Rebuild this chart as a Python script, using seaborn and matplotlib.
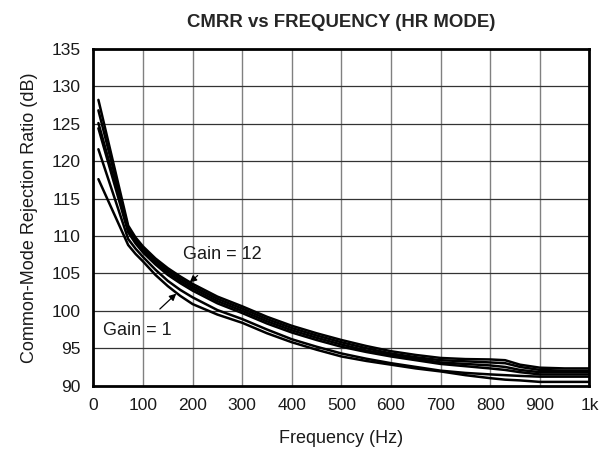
import pandas as pd
import numpy as np
import matplotlib
matplotlib.use('Agg')
import matplotlib.pyplot as plt
import seaborn as sns

# Frequency points (Hz)
freq = [10, 70, 85, 100, 125, 150, 175, 200, 250, 300, 350, 400, 450, 500, 550, 600,
        650, 700, 750, 800, 830, 860, 900, 950, 1000]

# CMRR curves (dB), top band = Gain 12 family, bottom = Gain 1
g12_a = [128.2, 111.4, 109.8, 108.6, 107.0, 105.7, 104.6, 103.6, 101.9, 100.6, 99.2, 98.0, 97.0,
         96.1, 95.3, 94.6, 94.1, 93.7, 93.55, 93.5, 93.4, 92.8, 92.4, 92.3, 92.3]
g12_b = [126.8, 111.1, 109.5, 108.3, 106.7, 105.4, 104.3, 103.3, 101.6, 100.3, 98.9, 97.7, 96.7,
         95.8, 95.0, 94.3, 93.8, 93.4, 93.25, 93.1, 93.0, 92.5, 92.1, 92.0, 92.0]
g12_c = [125.1, 110.8, 109.2, 108.0, 106.4, 105.1, 104.0, 103.0, 101.3, 100.0, 98.6, 97.4, 96.4,
         95.5, 94.7, 94.1, 93.6, 93.1, 92.9, 92.7, 92.5, 92.1, 91.8, 91.8, 91.8]
g12_d = [124.4, 110.5, 109.0, 107.8, 106.2, 104.8, 103.7, 102.7, 101.0, 99.7, 98.3, 97.1, 96.1,
         95.2, 94.5, 93.9, 93.4, 92.9, 92.6, 92.3, 92.1, 91.8, 91.5, 91.5, 91.5]
g2 = [121.6, 109.6, 108.3, 107.2, 105.5, 104.0, 102.8, 101.8, 100.1, 98.9, 97.5, 96.2, 95.2,
      94.3, 93.6, 93.0, 92.5, 92.0, 91.7, 91.5, 91.4, 91.3, 91.2, 91.2, 91.2]
g1 = [117.6, 108.8, 107.6, 106.6, 104.8, 103.3, 102.0, 100.9, 99.5, 98.4, 97.0, 95.8, 94.8,
      93.9, 93.3, 92.8, 92.3, 91.9, 91.4, 91.0, 90.8, 90.7, 90.5, 90.5, 90.5]

curves = {'G12a': g12_a, 'G12b': g12_b, 'G12c': g12_c, 'G12d': g12_d, 'G2': g2, 'G1': g1}
rows = []
for name, vals in curves.items():
    for f, v in zip(freq, vals):
        rows.append({'freq': f, 'cmrr': v, 'curve': name})
df = pd.DataFrame(rows)

x_ticks = [0, 100, 200, 300, 400, 500, 600, 700, 800, 900, 1000]
x_labels = ['0', '100', '200', '300', '400', '500', '600', '700', '800', '900', '1k']
y_ticks = [90, 95, 100, 105, 110, 115, 120, 125, 130, 135]

sns.set_style('white')
plt.rcParams['font.family'] = ['Liberation Sans', 'DejaVu Sans']

fig = plt.figure(figsize=(5.99, 4.58), dpi=100)
ax = fig.add_axes([0.156, 0.158, 0.828, 0.735])

sns.lineplot(data=df, x='freq', y='cmrr', hue='curve', palette=['black'] * 6,
             legend=False, linewidth=1.8, ax=ax, sort=True)

ax.set_xlim(0, 1000)
ax.set_ylim(90, 135)
ax.set_xticks(x_ticks)
ax.set_xticklabels(x_labels)
ax.set_yticks(y_ticks)
ax.tick_params(length=0, labelsize=12.5, pad=9, labelcolor='#1a1a1a')
for t in x_ticks[1:-1]:
    ax.axvline(t, color='#808080', linewidth=1.0, zorder=0)
for t in y_ticks[1:-1]:
    ax.axhline(t, color='#333333', linewidth=0.9, zorder=0)
for s in ax.spines.values():
    s.set_color('black')
    s.set_linewidth(2.0)

ax.set_xlabel('Frequency (Hz)', fontsize=13, labelpad=12, color='#1a1a1a')
ax.set_ylabel('Common-Mode Rejection Ratio (dB)', fontsize=13, labelpad=10, color='#1a1a1a')
ax.set_title('CMRR vs FREQUENCY (HR MODE)', fontsize=13.4, fontweight='bold', pad=16)

ax.annotate('Gain = 12', xy=(194, 103.8), xytext=(259, 107.5), fontsize=13,
            ha='center', va='center', color='#1a1a1a',
            arrowprops=dict(arrowstyle='-|>', color='black', lw=0.9, mutation_scale=10,
                            shrinkA=10, shrinkB=0))
ax.annotate('Gain = 1', xy=(167, 102.3), xytext=(88, 97.4), fontsize=13,
            ha='center', va='center', color='#1a1a1a',
            arrowprops=dict(arrowstyle='-|>', color='black', lw=0.9, mutation_scale=10,
                            shrinkA=10, shrinkB=0))

fig.savefig('out.png', dpi=100)
